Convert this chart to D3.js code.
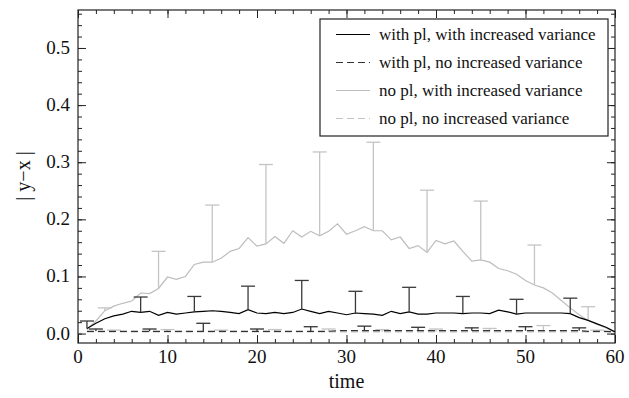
<!DOCTYPE html>
<html>
<head>
<meta charset="utf-8">
<script src="https://cdn.jsdelivr.net/npm/d3@7"></script>
<style>
  body { margin: 0; background: #fff; }
  svg text { font-family: "Liberation Serif", "DejaVu Serif", serif; fill: #111; }
</style>
</head>
<body>
<div class="container"></div>
<script>
// time steps
var time = [1,2,3,4,5,6,7,8,9,10,11,12,13,14,15,16,17,18,19,20,
            21,22,23,24,25,26,27,28,29,30,31,32,33,34,35,36,37,38,39,40,
            41,42,43,44,45,46,47,48,49,50,51,52,53,54,55,56,57,58,59,60];

// with pl, with increased variance (black solid)
var plVar = [0.009,0.018,0.026,0.031,0.034,0.039,0.037,0.039,0.032,0.037,
             0.034,0.036,0.038,0.039,0.040,0.039,0.037,0.035,0.042,0.036,
             0.035,0.037,0.035,0.037,0.043,0.039,0.035,0.039,0.036,0.033,
             0.036,0.035,0.034,0.032,0.039,0.035,0.038,0.034,0.034,0.036,
             0.036,0.036,0.035,0.036,0.036,0.035,0.041,0.038,0.034,0.036,
             0.036,0.036,0.036,0.036,0.035,0.028,0.023,0.017,0.011,0.003];

// with pl, no increased variance (black dashed)
var plNoVar = [0.004,0.004,0.004,0.004,0.004,0.004,0.004,0.004,0.004,0.004,
               0.004,0.004,0.004,0.004,0.004,0.004,0.004,0.004,0.004,0.004,
               0.004,0.004,0.004,0.004,0.004,0.004,0.004,0.004,0.005,0.005,
               0.005,0.005,0.005,0.005,0.005,0.005,0.005,0.005,0.005,0.005,
               0.005,0.005,0.005,0.005,0.005,0.005,0.005,0.005,0.005,0.005,
               0.005,0.005,0.005,0.005,0.005,0.005,0.004,0.004,0.004,0.003];

// no pl, with increased variance (gray solid)
var noPlVar = [0.007,0.022,0.040,0.048,0.053,0.057,0.071,0.070,0.079,0.099,
               0.095,0.100,0.121,0.125,0.125,0.132,0.144,0.149,0.168,0.153,
               0.157,0.170,0.158,0.180,0.169,0.179,0.171,0.179,0.192,0.174,
               0.180,0.187,0.180,0.180,0.164,0.169,0.149,0.154,0.142,0.163,
               0.157,0.162,0.144,0.127,0.129,0.125,0.114,0.110,0.104,0.093,
               0.085,0.080,0.071,0.058,0.045,0.033,0.023,0.016,0.010,0.002];

// no pl, no increased variance (gray dashed)
var noPlNoVar = [0.003,0.003,0.003,0.003,0.003,0.003,0.003,0.003,0.003,0.003,
                 0.003,0.003,0.003,0.003,0.003,0.003,0.003,0.003,0.003,0.003,
                 0.003,0.003,0.003,0.003,0.003,0.003,0.003,0.003,0.003,0.003,
                 0.003,0.003,0.003,0.003,0.003,0.003,0.003,0.003,0.003,0.003,
                 0.003,0.003,0.003,0.003,0.003,0.003,0.003,0.003,0.003,0.003,
                 0.003,0.003,0.003,0.003,0.003,0.003,0.003,0.003,0.003,0.002];

// error bars: time of bar and top of bar
var plVarErrT   = [1,7,13,19,25,31,37,43,49,55];
var plVarErrTop = [0.022,0.064,0.065,0.083,0.093,0.074,0.081,0.065,0.060,0.062];
var plNoVarErrT   = [2,8,14,20,26,32,38,44,50,56];
var plNoVarErrTop = [0.008,0.008,0.018,0.008,0.012,0.013,0.011,0.010,0.012,0.010];
var noPlVarErrT   = [3,9,15,21,27,33,39,45,51,57];
var noPlVarErrTop = [0.045,0.144,0.225,0.296,0.318,0.335,0.251,0.232,0.155,0.047];
var noPlNoVarErrT   = [4,10,16,22,28,34,40,46,52,58];
var noPlNoVarErrTop = [0.006,0.007,0.006,0.007,0.008,0.007,0.008,0.009,0.014,0.006];

var legendLabels = ["with pl, with increased variance", "with pl, no increased variance",
                    "no pl, with increased variance", "no pl, no increased variance"];
var xTicks = [0,10,20,30,40,50,60];
var yTicks = [0.0,0.1,0.2,0.3,0.4,0.5];

var series = [
    {label: legendLabels[0], vals: plVar, errT: plVarErrT, errTop: plVarErrTop, color: "#000", errColor: "#3a3a3a", dash: null},
    {label: legendLabels[1], vals: plNoVar, errT: plNoVarErrT, errTop: plNoVarErrTop, color: "#333", errColor: "#333", dash: "7,4"},
    {label: legendLabels[2], vals: noPlVar, errT: noPlVarErrT, errTop: noPlVarErrTop, color: "#bdbdbd", errColor: "#c4c4c4", dash: null},
    {label: legendLabels[3], vals: noPlNoVar, errT: noPlNoVarErrT, errTop: noPlNoVarErrTop, color: "#c4c4c4", errColor: "#c4c4c4", dash: "7,4"}
];

const width = 629, height = 398;
const mLeft = 78, mRight = 615, mTop = 10, mBottom = 343;

const svg = d3.select('.container').append('svg')
    .attr('width', width)
    .attr('height', height);

const x = d3.scaleLinear().domain([0, 60]).range([mLeft, mRight]);
const y = d3.scaleLinear().domain([-0.0165, 0.5665]).range([mBottom, mTop]);

// frame ticks on all four sides, pointing inward
const xMinor = d3.range(0, 61, 2);
const yMinor = d3.range(0, 0.561, 0.02);

function tickAxis(axisFn, scale, ticks, size) {
    return axisFn(scale).tickValues(ticks).tickSize(size).tickFormat('');
}

const axes = svg.append('g').attr('class', 'axes');
axes.append('g').attr('transform', `translate(0,${mBottom})`).call(tickAxis(d3.axisTop, x, xMinor, 4));
axes.append('g').attr('transform', `translate(0,${mBottom})`).call(tickAxis(d3.axisTop, x, xTicks, 8));
axes.append('g').attr('transform', `translate(0,${mTop})`).call(tickAxis(d3.axisBottom, x, xMinor, 4));
axes.append('g').attr('transform', `translate(0,${mTop})`).call(tickAxis(d3.axisBottom, x, xTicks, 8));
axes.append('g').attr('transform', `translate(${mLeft},0)`).call(tickAxis(d3.axisRight, y, yMinor, 4));
axes.append('g').attr('transform', `translate(${mLeft},0)`).call(tickAxis(d3.axisRight, y, yTicks, 8));
axes.append('g').attr('transform', `translate(${mRight},0)`).call(tickAxis(d3.axisLeft, y, yMinor, 4));
axes.append('g').attr('transform', `translate(${mRight},0)`).call(tickAxis(d3.axisLeft, y, yTicks, 8));
axes.selectAll('.domain').remove();
axes.selectAll('line').attr('stroke', '#222').attr('stroke-width', 1);

svg.append('rect')
    .attr('x', mLeft).attr('y', mTop)
    .attr('width', mRight - mLeft).attr('height', mBottom - mTop)
    .attr('fill', 'none').attr('stroke', '#222').attr('stroke-width', 1.2);

// tick labels
svg.append('g').selectAll('text').data(xTicks).enter().append('text')
    .attr('x', d => x(d)).attr('y', 363)
    .attr('text-anchor', 'middle').attr('font-size', '19px')
    .text(d => d);
svg.append('g').selectAll('text').data(yTicks).enter().append('text')
    .attr('x', 70).attr('y', d => y(d) + 6)
    .attr('text-anchor', 'end').attr('font-size', '19px')
    .text(d => d.toFixed(1));

svg.append('text')
    .attr('x', (mLeft + mRight) / 2).attr('y', 388)
    .attr('text-anchor', 'middle').attr('font-size', '20px')
    .text('time');
svg.append('text')
    .attr('transform', 'translate(30,176) rotate(-90)')
    .attr('text-anchor', 'middle').attr('font-size', '20px')
    .text('| y\u2212x |');

const plot = svg.append('g');
const line = d3.line().x((d, i) => x(time[i])).y(d => y(d));

// draw gray series first so black sits on top
[2, 3, 1, 0].forEach(k => {
    const s = series[k];
    plot.append('path')
        .datum(s.vals)
        .attr('d', line)
        .attr('fill', 'none')
        .attr('stroke', s.color)
        .attr('stroke-width', 1.2)
        .attr('stroke-dasharray', s.dash);

    const eb = plot.append('g');
    s.errT.forEach((t, j) => {
        const base = s.vals[time.indexOf(t)];
        eb.append('line')
            .attr('x1', x(t)).attr('x2', x(t))
            .attr('y1', y(base)).attr('y2', y(s.errTop[j]))
            .attr('stroke', s.errColor).attr('stroke-width', 1.3);
        eb.append('line')
            .attr('x1', x(t) - 7).attr('x2', x(t) + 7)
            .attr('y1', y(s.errTop[j])).attr('y2', y(s.errTop[j]))
            .attr('stroke', s.errColor).attr('stroke-width', 1.3);
    });
});

// legend
const lg = svg.append('g');
lg.append('rect')
    .attr('x', 320).attr('y', 19)
    .attr('width', 288).attr('height', 117)
    .attr('fill', '#fff').attr('stroke', '#222').attr('stroke-width', 1.2);
series.forEach((s, i) => {
    const cy = 34.5 + i * 28;
    lg.append('line')
        .attr('x1', 336).attr('x2', 370)
        .attr('y1', cy).attr('y2', cy)
        .attr('stroke', s.color).attr('stroke-width', 1.2)
        .attr('stroke-dasharray', s.dash);
    lg.append('text')
        .attr('x', 379).attr('y', cy + 5.5)
        .attr('font-size', '17px')
        .text(s.label);
});
</script>
</body>
</html>
